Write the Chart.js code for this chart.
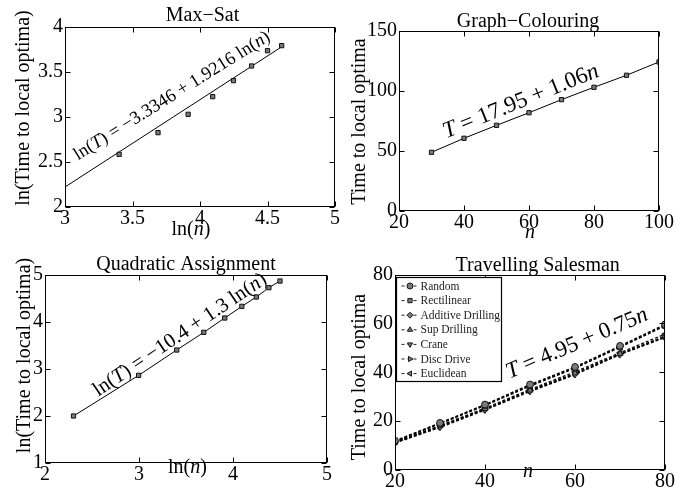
<!DOCTYPE html>
<html><head><meta charset="utf-8">
<script src="https://cdn.jsdelivr.net/npm/chart.js@4.4.1/dist/chart.umd.min.js"></script>
<style>
html,body{margin:0;padding:0;background:#fff;}
#wrap{position:relative;width:686px;height:495px;overflow:hidden;background:#fff}
canvas{position:absolute;display:block}
</style></head><body>
<div id="wrap">
<canvas id="c1" width="343" height="247" style="left:0;top:0"></canvas>
<canvas id="c2" width="343" height="247" style="left:343px;top:0"></canvas>
<canvas id="c3" width="343" height="248" style="left:0;top:247px"></canvas>
<canvas id="c4" width="343" height="248" style="left:343px;top:247px"></canvas>
</div>
<script>
// ---------- data ----------
const maxSatLnN = [3.401, 3.689, 3.912, 4.094, 4.248, 4.382, 4.500, 4.605];
const maxSatLnT = [2.585, 2.826, 3.030, 3.226, 3.404, 3.567, 3.737, 3.793];
const maxSatFitLnN = [3.0, 4.605];
const maxSatFitLnT = [2.222, 3.780];

const gcN = [30, 40, 50, 60, 70, 80, 90, 100];
const gcT = [48.9, 60.6, 71.4, 81.9, 92.8, 103.1, 113.1, 124.2];

const qapLnN = [2.303, 2.996, 3.401, 3.689, 3.912, 4.094, 4.248, 4.382, 4.500];
const qapLnT = [2.00, 2.865, 3.404, 3.780, 4.085, 4.333, 4.532, 4.730, 4.872];

const tspN = [20, 30, 40, 50, 60, 70, 80];
const tspNames = ['Random', 'Rectilinear', 'Additive Drilling', 'Sup Drilling', 'Crane', 'Disc Drive', 'Euclidean'];
const tspRandom     = [12.0, 19.3, 26.8, 35.0, 42.2, 50.8, 59.6];
const tspRectilinear= [11.6, 18.9, 26.3, 34.3, 41.6, 50.2, 58.9];
const tspAdditive   = [11.8, 19.1, 26.6, 34.6, 41.9, 50.5, 59.2];
const tspSup        = [11.3, 18.0, 25.0, 32.6, 39.6, 47.6, 54.8];
const tspCrane      = [11.0, 17.4, 24.5, 32.1, 39.0, 47.2, 54.2];
const tspDisc       = [11.2, 17.7, 24.8, 32.4, 39.3, 47.4, 54.5];
const tspEuclidean  = [11.4, 18.2, 25.3, 33.0, 40.2, 48.0, 55.6];
const tspSeries = [tspRandom, tspRectilinear, tspAdditive, tspSup, tspCrane, tspDisc, tspEuclidean];

const titles = ['Max\u2212Sat', 'Graph\u2212Colouring', 'Quadratic Assignment', 'Travelling Salesman'];

// ---------- helpers ----------
const FONT = '"Liberation Serif", "Times New Roman", serif';
Chart.defaults.font.family = FONT;
Chart.defaults.color = '#000';

const pts = (xs, ys) => xs.map((x, i) => ({x, y: ys[i]}));
const fmt = v => String(Math.round(v * 100) / 100);

function drawMixed(ctx, segs, size, x, y, baseline) {
  const fonts = segs.map(s => (s[1] ? 'italic ' : '') + size + 'px ' + FONT);
  let w = 0;
  const ws = segs.map((s, i) => { ctx.font = fonts[i]; const m = ctx.measureText(s[0]).width; w += m; return m; });
  let sx = x - w / 2;
  ctx.textAlign = 'left';
  ctx.textBaseline = baseline;
  segs.forEach((s, i) => { ctx.font = fonts[i]; ctx.fillText(s[0], sx, y); sx += ws[i]; });
  return w;
}
function mixedWidth(ctx, segs, size) {
  let w = 0;
  segs.forEach(s => { ctx.font = (s[1] ? 'italic ' : '') + size + 'px ' + FONT; w += ctx.measureText(s[0]).width; });
  return w;
}

function marker(ctx, style, rot, r, x, y) {
  ctx.fillStyle = '#7a7a7a';
  ctx.strokeStyle = '#1a1a1a';
  ctx.lineWidth = 1;
  if (Chart.helpers && Chart.helpers.drawPoint) {
    Chart.helpers.drawPoint(ctx, {pointStyle: style, rotation: rot, radius: r, borderWidth: 1}, x, y);
  } else {
    ctx.beginPath(); ctx.arc(x, y, r, 0, Math.PI * 2); ctx.fill(); ctx.stroke();
  }
}

const deco = {
  id: 'deco',
  afterDatasetsDraw(chart, args, o) {
    const ctx = chart.ctx, a = chart.chartArea;
    const xs = chart.scales.x, ys = chart.scales.y;
    ctx.save();
    ctx.strokeStyle = '#000';
    ctx.lineWidth = 1;
    ctx.setLineDash([]);
    const L = Math.round(a.left) + 0.5, R = Math.round(a.right) - 0.5, T = Math.round(a.top) + 0.5, B = Math.round(a.bottom) - 0.5;
    ctx.beginPath();
    xs.ticks.forEach(t => {
      const p = Math.round(xs.getPixelForValue(t.value)) + 0.5;
      ctx.moveTo(p, B); ctx.lineTo(p, B - 5);
      ctx.moveTo(p, T); ctx.lineTo(p, T + 5);
    });
    ys.ticks.forEach(t => {
      const p = Math.round(ys.getPixelForValue(t.value)) + 0.5;
      ctx.moveTo(L, p); ctx.lineTo(L + 5, p);
      ctx.moveTo(R, p); ctx.lineTo(R - 5, p);
    });
    ctx.stroke();
    ctx.strokeRect(L, T, R - L, B - T);

    ctx.fillStyle = '#000';
    // title
    drawMixed(ctx, [[o.title, false]], 20, o.titleX, o.titleY, 'alphabetic');
    // x label
    drawMixed(ctx, o.xlabel, 20, o.xlabelX, o.xlabelY, 'alphabetic');
    // y label
    ctx.save();
    ctx.translate(o.ylabelX, o.ylabelY);
    ctx.rotate(-Math.PI / 2);
    drawMixed(ctx, [[o.ylabel, false]], 20, 0, 0, 'middle');
    ctx.restore();
    // equation
    const e = o.eq;
    const size = 20 * e.width / mixedWidth(ctx, e.segs, 20);
    ctx.save();
    ctx.translate(e.cx, e.cy);
    ctx.rotate(-e.angle * Math.PI / 180);
    drawMixed(ctx, e.segs, size, 0, 0, 'middle');
    ctx.restore();

    // legend
    if (o.legend) {
      const lx = a.left + 1.5, ly = a.top + 3, lw = 105, lh = 104;
      ctx.fillStyle = '#fff';
      ctx.fillRect(lx, ly, lw, lh);
      ctx.strokeStyle = '#000';
      ctx.lineWidth = 1.2;
      ctx.strokeRect(lx, ly, lw, lh);
      chart.data.datasets.forEach((ds, i) => {
        const cy = ly + 8.5 + i * 14.6;
        ctx.strokeStyle = '#222';
        ctx.lineWidth = 1;
        ctx.setLineDash([3, 3]);
        ctx.beginPath(); ctx.moveTo(lx + 5, cy); ctx.lineTo(lx + 22, cy); ctx.stroke();
        ctx.setLineDash([]);
        marker(ctx, ds.pointStyle, ds.pointRotation || 0, 3, lx + 13.5, cy);
        ctx.fillStyle = '#222';
        ctx.font = '11.5px ' + FONT;
        ctx.textAlign = 'left';
        ctx.textBaseline = 'middle';
        ctx.fillText(ds.label, lx + 24, cy + 0.5);
      });
    }
    ctx.restore();
  }
};

function axis(min, max, step, size, isX) {
  return {
    type: 'linear', min, max,
    grid: {display: false, drawTicks: false},
    border: {display: false},
    title: {display: false},
    ticks: {stepSize: step, font: {size: 20, family: FONT}, color: '#000', padding: isX ? 0 : 2,
            maxRotation: 0, autoSkip: false, includeBounds: true, callback: v => fmt(v)},
    afterFit(s) {
      if (isX) s.height = size; else s.width = size;
      s.paddingLeft = 0; s.paddingRight = 0; s.paddingTop = 0; s.paddingBottom = 0;
    }
  };
}

function make(id, area, W, H, xr, yr, datasets, d) {
  return new Chart(document.getElementById(id), {
    type: 'scatter',
    data: {datasets},
    options: {
      responsive: false, animation: false, events: [],
      layout: {padding: {left: 0, top: area.T, right: W - area.R, bottom: 0}},
      plugins: {legend: {display: false}, tooltip: {enabled: false}, title: {display: false}, deco: d},
      scales: {
        x: axis(xr[0], xr[1], xr[2], H - area.B, true),
        y: axis(yr[0], yr[1], yr[2], area.L, false)
      }
    },
    plugins: [deco]
  });
}

const sq = {pointStyle: 'rect', pointRadius: 3, pointBackgroundColor: '#7a7a7a', pointBorderColor: '#111', pointBorderWidth: 1};

// ---------- Max-Sat ----------
make('c1', {L: 65, T: 27, R: 335, B: 207}, 343, 247, [3, 5, 0.5], [2, 4, 0.5], [
  Object.assign({data: pts(maxSatLnN, maxSatLnT), showLine: false}, sq),
  {data: pts(maxSatFitLnN, maxSatFitLnT), showLine: true, borderColor: '#000', borderWidth: 1, pointRadius: 0}
], {
  title: titles[0], titleX: 202.5, titleY: 20.5,
  xlabel: [['ln(', false], ['n', true], [')', false]], xlabelX: 191, xlabelY: 235,
  ylabel: 'ln(Time to local optima)', ylabelX: 24, ylabelY: 108,
  eq: {segs: [['ln(', false], ['T', true], [') = \u22123.3346 + 1.9216 ln(', false], ['n', true], [')', false]],
       cx: 172, cy: 96, angle: 32, width: 228}
});

// ---------- Graph-Colouring ----------
make('c2', {L: 56, T: 31, R: 316, B: 211}, 343, 247, [20, 100, 20], [0, 150, 50], [
  Object.assign({data: pts(gcN, gcT), showLine: true, borderColor: '#000', borderWidth: 1}, sq)
], {
  title: titles[1], titleX: 185, titleY: 26.5,
  xlabel: [['n', true]], xlabelX: 187, xlabelY: 238,
  ylabel: 'Time to local optima', ylabelX: 16.5, ylabelY: 121.5,
  eq: {segs: [['T', true], [' = 17.95 + 1.06', false], ['n', true]],
       cx: 178, cy: 101.5, angle: 22, width: 166}
});

// ---------- Quadratic Assignment ----------
make('c3', {L: 45, T: 28, R: 327, B: 216}, 343, 248, [2, 5, 1], [1, 5, 1], [
  Object.assign({data: pts(qapLnN, qapLnT), showLine: true, borderColor: '#000', borderWidth: 1}, sq)
], {
  title: titles[2], titleX: 186, titleY: 23.3,
  xlabel: [['ln(', false], ['n', true], [')', false]], xlabelX: 187.5, xlabelY: 226,
  ylabel: 'ln(Time to local optima)', ylabelX: 25, ylabelY: 108.5,
  eq: {segs: [['ln(', false], ['T', true], [') = \u221210.4 + 1.3 ln(', false], ['n', true], [')', false]],
       cx: 180, cy: 88, angle: 34, width: 205}
});

// ---------- Travelling Salesman ----------
const tspStyles = [['circle', 0], ['rect', 0], ['rectRot', 0], ['triangle', 0], ['triangle', 180], ['triangle', 90], ['triangle', -90]];
make('c4', {L: 52, T: 27.5, R: 322, B: 223}, 343, 248, [20, 80, 20], [0, 80, 20],
  tspSeries.map((s, i) => ({
    label: tspNames[i], data: pts(tspN, s), showLine: true,
    borderColor: '#000', borderWidth: 1.2, borderDash: [3, 2],
    pointStyle: tspStyles[i][0], pointRotation: tspStyles[i][1], pointRadius: 3.4,
    pointBackgroundColor: '#7a7a7a', pointBorderColor: '#1a1a1a', pointBorderWidth: 1
  })), {
  title: titles[3], titleX: 194.7, titleY: 24,
  xlabel: [['n', true]], xlabelX: 185, xlabelY: 230,
  ylabel: 'Time to local optima', ylabelX: 16.5, ylabelY: 130,
  eq: {segs: [['T', true], [' = 4.95 + 0.75', false], ['n', true]],
       cx: 234, cy: 96.5, angle: 23, width: 152},
  legend: true
});
</script>
</body></html>
